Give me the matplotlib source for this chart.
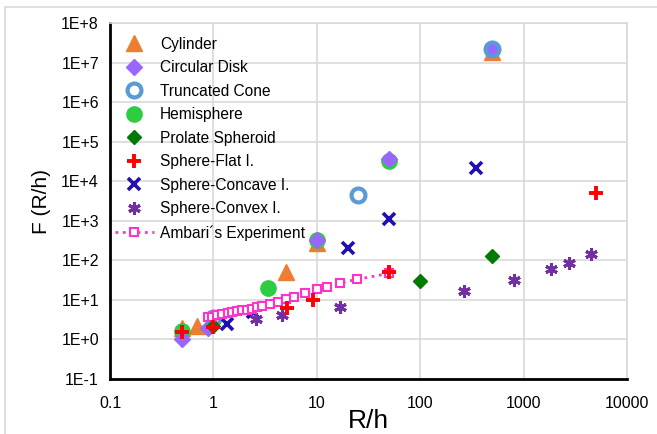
import matplotlib
matplotlib.use("Agg")
import matplotlib.pyplot as plt
from matplotlib.patches import Rectangle

plt.rcParams['font.family'] = ['Liberation Sans', 'DejaVu Sans']

# ---- data ----
cyl_x = [0.5, 0.7, 5.05, 10, 500]
cyl_y = [1.9, 2.2, 52, 280, 1.9e7]

disk_x = [0.5, 0.88, 10, 50, 500]
disk_y = [1.05, 1.95, 330, 36000, 2.15e7]

cone_x = [1.0, 25, 500]
cone_y = [3.4, 4400, 2.15e7]

hemi_x = [0.5, 3.4, 10, 50]
hemi_y = [1.6, 20, 320, 32000]

prol_x = [1.0, 100, 500]
prol_y = [2.2, 30, 130]

flat_x = [0.5, 1.0, 5.1, 9.2, 50, 5000]
flat_y = [1.5, 2.1, 6.1, 10, 50, 4900]

conc_x = [1.36, 2.4, 20, 50, 350]
conc_y = [2.5, 4.8, 207, 1100, 21000]

conv_x = [2.6, 4.6, 16.8, 263, 809, 1860, 2730, 4530]
conv_y = [3.2, 4.1, 6.6, 17, 31.6, 62, 86, 143]

amb_x = [0.88, 0.98, 1.09, 1.22, 1.37, 1.53, 1.71, 1.91, 2.13, 2.38, 2.66,
         2.98, 3.56, 4.25, 5.08, 6.07, 7.75, 10.1, 12.6, 16.9, 24.6, 49.4]
amb_y = [3.6, 3.8, 4.1, 4.35, 4.6, 4.9, 5.2, 5.5, 5.7, 6.0, 6.6,
         7.1, 7.8, 8.8, 10.3, 12, 14.6, 18.4, 21.4, 27, 33, 46.6]

xticks = [0.1, 1, 10, 100, 1000, 10000]
xtick_labels = ['0.1', '1', '10', '100', '1000', '10000']
yticks = [1e-1, 1e0, 1e1, 1e2, 1e3, 1e4, 1e5, 1e6, 1e7, 1e8]
ytick_labels = ['1E-1', '1E+0', '1E+1', '1E+2', '1E+3', '1E+4', '1E+5', '1E+6', '1E+7', '1E+8']

W, H = 657, 434
fig = plt.figure(figsize=(W / 100, H / 100), dpi=100)
fig.patches.append(Rectangle((5 / W, -0.1), 1.2, 1 - 7 / H + 0.1, transform=fig.transFigure,
                             fill=False, edgecolor='#D9D9D9', lw=1.2))
ax = fig.add_axes([110 / W, 1 - 379 / H, (627 - 110) / W, (379 - 23) / H])

ax.set_xscale('log')
ax.set_yscale('log')
ax.set_xlim(0.1, 10000)
ax.set_ylim(1e-1, 1e8)

ms_kw = dict(linestyle='none')
ax.plot(cyl_x, cyl_y, marker='^', color='#ED7D31', ms=11, label='Cylinder', zorder=3, **ms_kw)
ax.plot(hemi_x, hemi_y, marker='o', color='#2ECC40', ms=11, label='Hemisphere', zorder=4, **ms_kw)
ax.plot(disk_x, disk_y, marker='D', color='#9966FF', ms=8.5, label='Circular Disk', zorder=5, **ms_kw)
ax.plot(cone_x, cone_y, marker='o', mfc='none', mec='#5B9BD5', mew=3, ms=10, label='Truncated Cone', zorder=6, **ms_kw)
ax.plot(prol_x, prol_y, marker='D', color='#007A00', ms=7.5, label='Prolate Spheroid', zorder=6, **ms_kw)
ax.plot(conc_x, conc_y, marker='x', color='#1F0FB5', mew=2.6, ms=8, label='Sphere-Concave I.', zorder=7, **ms_kw)
ax.plot(conv_x, conv_y, marker=(6, 2, 0), color='#7030A0', mew=2.2, ms=9, label='Sphere-Convex I.', zorder=7, **ms_kw)
ax.plot(amb_x, amb_y, linestyle=':', color='#FF33CC', lw=2, marker='s', ms=5.5, mfc='white',
        mec='#FF33CC', mew=1.5, label='Ambari´s Experiment', zorder=8)
ax.plot(flat_x, flat_y, marker='+', color='#FF0000', mew=2.8, ms=9.5, label='Sphere-Flat I.', zorder=9, **ms_kw)

ax.set_xticks(xticks)
ax.set_xticklabels(xtick_labels)
ax.set_yticks(yticks)
ax.set_yticklabels(ytick_labels)
ax.minorticks_off()
ax.tick_params(axis='both', length=0, labelsize=11.5, colors='black')
ax.tick_params(axis='x', pad=12)
ax.tick_params(axis='y', pad=8)
ax.grid(True, color='#D9D9D9', lw=1.2)
ax.set_axisbelow(True)
for s in ['top', 'right']:
    ax.spines[s].set_color('#D9D9D9')
    ax.spines[s].set_linewidth(1.2)
for s in ['left', 'bottom']:
    ax.spines[s].set_color('black')
    ax.spines[s].set_linewidth(2)

ax.set_xlabel('R/h', fontsize=19, labelpad=-1)
ax.set_ylabel('F (R/h)', fontsize=15, labelpad=7)

h, l = ax.get_legend_handles_labels()
order = ['Cylinder', 'Circular Disk', 'Truncated Cone', 'Hemisphere', 'Prolate Spheroid',
         'Sphere-Flat I.', 'Sphere-Concave I.', 'Sphere-Convex I.', 'Ambari´s Experiment']
hd = dict(zip(l, h))
leg = ax.legend([hd[k] for k in order], order, loc='upper left', bbox_to_anchor=(0.0, 0.975),
                frameon=False, fontsize=11.2, handlelength=2.5, handletextpad=0.4,
                labelspacing=0.55, borderaxespad=0.2, borderpad=0.1)

fig.savefig('out.png', dpi=100)
